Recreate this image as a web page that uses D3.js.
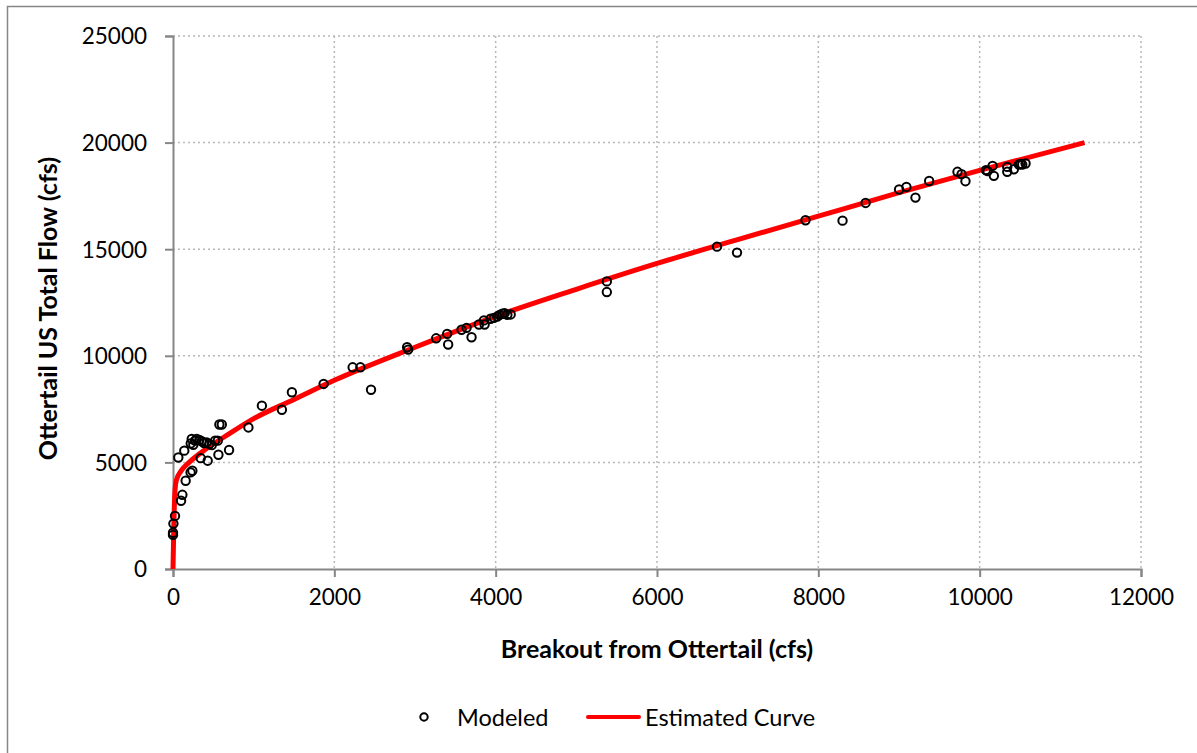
<!DOCTYPE html>
<html>
<head>
<meta charset="utf-8">
<script src="https://cdn.jsdelivr.net/npm/d3@7"></script>
<style>
  body { margin: 0; background: #fff; }
  text { font-family: Lato, "Noto Sans", sans-serif; fill: #000; }
</style>
</head>
<body>
<div id="my_dataviz"></div>
<script>
// modeled points (breakout cfs, total flow cfs)
var modeledX = [0, 0, 5, 25, 100, 116, 66, 140, 157, 218, 240,
  232, 220, 252, 273, 294, 327, 356, 385, 418, 451, 480, 522, 555,
  344, 430, 563, 695, 575, 605, 935, 1102, 1350, 1474, 1867, 2227, 2323, 2455,
  2902, 2915, 3262, 3399, 3411, 3577, 3639, 3701, 3792, 3854, 3863, 3937, 3978,
  4020, 4049, 4083, 4111, 4145, 4186, 5378, 5378, 6744, 6992, 7841, 8300, 8586,
  9001, 9092, 9204, 9374, 9725, 9775, 9824, 10077, 10098, 10160, 10176, 10342,
  10342, 10424, 10486, 10507, 10528, 10569];
var modeledY = [1600, 1700, 2130, 2490, 3200, 3480, 5230, 5550, 4140, 4530, 4610,
  6100, 5890, 5830, 6020, 6100, 6050, 5990, 5910, 5940, 5860, 5810, 6020, 6020,
  5200, 5080, 5360, 5580, 6780, 6780, 6640, 7660, 7470, 8290, 8680, 9460, 9460, 8410,
  10400, 10290, 10820, 11030, 10530, 11220, 11310, 10870, 11470, 11660, 11470, 11740, 11780,
  11840, 11920, 11970, 12000, 11920, 11940, 13490, 12990, 15120, 14840, 16360, 16340, 17170,
  17800, 17920, 17420, 18200, 18630, 18520, 18190, 18710, 18660, 18910, 18440, 18860,
  18630, 18750, 18970, 19000, 18970, 19020];

// estimated curve
var curveX = [0, 10, 25, 40, 100, 200, 400, 700, 1000, 1500, 2000, 3000,
  4000, 5000, 6000, 7000, 8000, 9000, 10000, 11300];
var curveY = [0, 2000, 3700, 4150, 4600, 5000, 5600, 6350, 7050, 7950, 8850, 10400,
  11850, 13120, 14330, 15450, 16550, 17650, 18700, 20000];

var xTicks = [0, 2000, 4000, 6000, 8000, 10000, 12000];
var yTicks = [0, 5000, 10000, 15000, 20000, 25000];

var W = 1197, H = 753;
var margin = {top: 36, right: 56, bottom: 184, left: 173},
  width = W - margin.left - margin.right,
  height = H - margin.top - margin.bottom;

var svg = d3.select("#my_dataviz")
  .append("svg")
  .attr("width", W)
  .attr("height", H);

// chart border (only left/top edges are in the frame)
svg.append("rect")
  .attr("x", 7.5).attr("y", 6.5)
  .attr("width", 1300).attr("height", 900)
  .attr("fill", "none")
  .attr("stroke", "#868686")
  .attr("stroke-width", 1.5);

var g = svg.append("g")
  .attr("transform", "translate(" + margin.left + "," + margin.top + ")");

var x = d3.scaleLinear().domain([0, 12000]).range([0, width]);
var y = d3.scaleLinear().domain([0, 25000]).range([height, 0]);

// dotted grid
g.selectAll(".vgrid")
  .data(xTicks.slice(1))
  .enter().append("line")
  .attr("x1", d => x(d)).attr("x2", d => x(d))
  .attr("y1", 0).attr("y2", height)
  .attr("stroke", "#b8b8b8")
  .attr("stroke-width", 1.5)
  .attr("stroke-dasharray", "2,3");

g.selectAll(".hgrid")
  .data(yTicks.slice(1))
  .enter().append("line")
  .attr("x1", 0).attr("x2", width)
  .attr("y1", d => y(d)).attr("y2", d => y(d))
  .attr("stroke", "#b8b8b8")
  .attr("stroke-width", 1.5)
  .attr("stroke-dasharray", "2,3");

// axes
var xAxis = g.append("g")
  .attr("transform", "translate(0," + height + ")")
  .call(d3.axisBottom(x).tickValues(xTicks).tickSize(8).tickPadding(12).tickFormat(d3.format("d")));
var yAxis = g.append("g")
  .call(d3.axisLeft(y).tickValues(yTicks).tickSize(8).tickPadding(18).tickFormat(d3.format("d")));

[xAxis, yAxis].forEach(a => {
  a.select(".domain").attr("stroke", "#868686").attr("stroke-width", 2);
  a.selectAll(".tick line").attr("stroke", "#868686").attr("stroke-width", 2);
  a.selectAll(".tick text")
    .attr("font-family", "Lato, sans-serif")
    .attr("font-size", "22.5px")
    .attr("fill", "#000");
});
yAxis.selectAll(".tick text").attr("dy", "0.35em");

// estimated curve
var curveData = curveX.map((d, i) => ({x: d, y: curveY[i]}));
g.append("path")
  .datum(curveData)
  .attr("fill", "none")
  .attr("stroke", "#ff0000")
  .attr("stroke-width", 5)
  .attr("stroke-linejoin", "round")
  .attr("d", d3.line().x(d => x(d.x)).y(d => y(d.y)).curve(d3.curveMonotoneX));

// modeled points
g.selectAll(".pt")
  .data(modeledX.map((d, i) => ({x: d, y: modeledY[i]})))
  .enter().append("circle")
  .attr("cx", d => x(d.x))
  .attr("cy", d => y(d.y))
  .attr("r", 4.2)
  .attr("fill", "none")
  .attr("stroke", "#000")
  .attr("stroke-width", 2);

// axis titles
svg.append("text")
  .attr("x", margin.left + width / 2)
  .attr("y", 658)
  .attr("text-anchor", "middle")
  .attr("font-weight", "bold")
  .attr("font-size", "25px")
  .text("Breakout from Ottertail (cfs)");

svg.append("text")
  .attr("transform", "translate(57," + (margin.top + height / 2 + 6) + ") rotate(-90)")
  .attr("text-anchor", "middle")
  .attr("font-weight", "bold")
  .attr("font-size", "25px")
  .text("Ottertail US Total Flow (cfs)");

// legend
var legend = svg.append("g");
legend.append("circle")
  .attr("cx", 424).attr("cy", 717)
  .attr("r", 3.7)
  .attr("fill", "none")
  .attr("stroke", "#000")
  .attr("stroke-width", 2);
legend.append("text")
  .attr("x", 457).attr("y", 726)
  .attr("font-size", "23.5px")
  .text("Modeled");
legend.append("line")
  .attr("x1", 588).attr("x2", 639)
  .attr("y1", 717).attr("y2", 717)
  .attr("stroke", "#ff0000")
  .attr("stroke-width", 4)
  .attr("stroke-linecap", "round");
legend.append("text")
  .attr("x", 645).attr("y", 726)
  .attr("font-size", "23.5px")
  .text("Estimated Curve");
</script>
</body>
</html>
